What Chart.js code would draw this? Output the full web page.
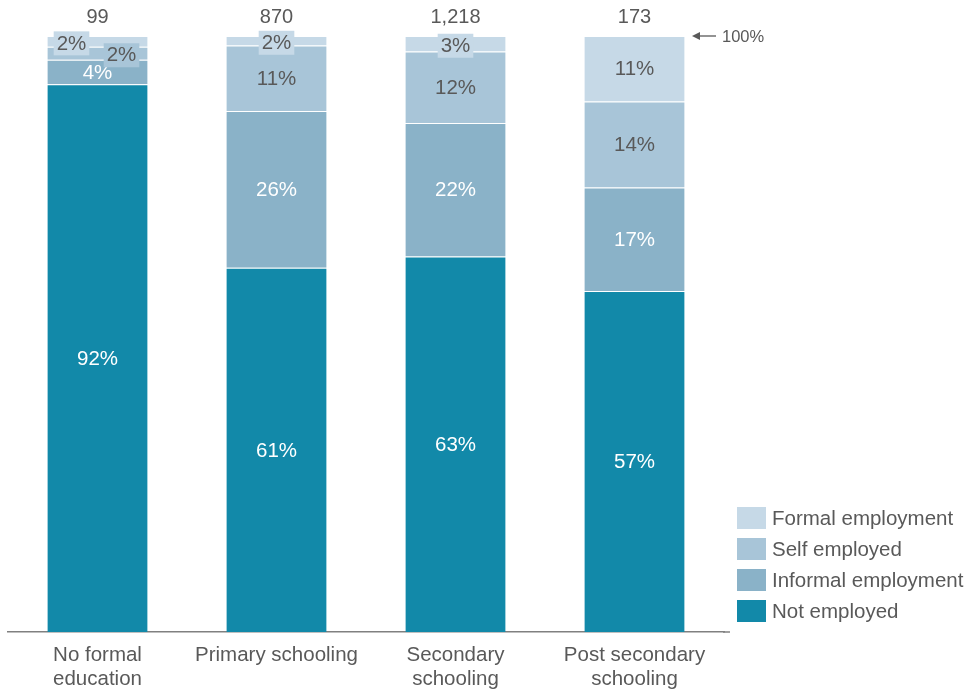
<!DOCTYPE html>
<html>
<head>
<meta charset="utf-8">
<script src="https://cdn.jsdelivr.net/npm/chart.js@4"></script>
<style>
  html, body { margin: 0; padding: 0; background: #fff; }
  #wrap { width: 971px; height: 694px; }
</style>
</head>
<body>
<div id="wrap"><canvas id="eduChart" width="971" height="694"></canvas></div>
<script>
// categories and sample sizes (n shown above bars)
const categories = [['No formal', 'education'], 'Primary schooling', ['Secondary', 'schooling'], ['Post secondary', 'schooling']];
const sampleSizes = ['99', '870', '1,218', '173'];

// shares in % (bottom to top)
const notEmployed = [91.9, 61.1, 63.0, 57.2];
const informalEmployment = [4.1, 26.3, 22.4, 17.4];
const selfEmployed = [2.2, 11.0, 12.0, 14.4];
const formalEmployment = [1.8, 1.6, 2.6, 11.0];

const grey = '#595959';
const font = "'Liberation Sans', Arial, sans-serif";

// label nudges for the tiny segments in the first bar
const labelShift = { '3-0': -26, '2-0': 24 };

const segLabels = {
  id: 'segLabels',
  afterDatasetsDraw(chart) {
    const ctx = chart.ctx;
    const area = chart.chartArea;
    ctx.save();

    // axis line runs a little past the last bar
    ctx.strokeStyle = '#808080';
    ctx.lineWidth = 1.5;
    ctx.beginPath();
    ctx.moveTo(area.right - 1, area.bottom);
    ctx.lineTo(730, area.bottom);
    ctx.stroke();

    ctx.font = '20.5px ' + font;
    ctx.textAlign = 'center';
    ctx.textBaseline = 'middle';
    chart.data.datasets.forEach((ds, di) => {
      const meta = chart.getDatasetMeta(di);
      meta.data.forEach((bar, i) => {
        const v = ds.data[i];
        const txt = Math.round(v) + '%';
        const h = bar.base - bar.y;
        let x = bar.x + (labelShift[di + '-' + i] || 0);
        let y = bar.y + h / 2;
        if (h < 20) {
          y += 1.5;
          const w = ctx.measureText(txt).width + 6;
          ctx.fillStyle = ds.backgroundColor;
          ctx.fillRect(x - w / 2, y - 11.5, w, 24);
        }
        ctx.fillStyle = ds.labelColor;
        ctx.fillText(txt, x, y + 1);
      });
    });

    // sample sizes above the bars
    ctx.fillStyle = grey;
    ctx.font = '20px ' + font;
    const top = chart.getDatasetMeta(0).data;
    top.forEach((bar, i) => {
      ctx.fillText(sampleSizes[i], bar.x, 17);
    });

    // 100% marker
    const y100 = chart.scales.y.getPixelForValue(100);
    ctx.strokeStyle = grey;
    ctx.lineWidth = 1.3;
    ctx.beginPath();
    ctx.moveTo(694, y100);
    ctx.lineTo(716, y100);
    ctx.stroke();
    ctx.beginPath();
    ctx.moveTo(692, y100);
    ctx.lineTo(700, y100 - 4);
    ctx.lineTo(700, y100 + 4);
    ctx.closePath();
    ctx.fillStyle = grey;
    ctx.fill();
    ctx.font = '16.5px ' + font;
    ctx.textAlign = 'left';
    ctx.fillText('100%', 722, y100 + 1);

    // legend, top item first
    ctx.font = '20.5px ' + font;
    const order = [3, 2, 1, 0];
    order.forEach((di, k) => {
      const ds = chart.data.datasets[di];
      const cy = 518 + k * 31;
      ctx.fillStyle = ds.backgroundColor;
      ctx.fillRect(737, cy - 11, 29, 22);
      ctx.fillStyle = grey;
      ctx.fillText(ds.label, 772, cy + 1);
    });
    ctx.restore();
  }
};

const mk = (label, data, color, labelColor) => ({
  label, data,
  backgroundColor: color,
  labelColor,
  borderColor: 'rgba(255,255,255,0.35)',
  borderWidth: { top: 1, left: 0, right: 0, bottom: 0 },
  borderSkipped: false,
  barPercentage: 0.56,
  categoryPercentage: 1
});

new Chart(document.getElementById('eduChart'), {
  type: 'bar',
  data: {
    labels: categories,
    datasets: [
      mk('Not employed', notEmployed, '#1289A9', '#ffffff'),
      mk('Informal employment', informalEmployment, '#8AB2C8', '#ffffff'),
      mk('Self employed', selfEmployed, '#A8C5D8', grey),
      mk('Formal employment', formalEmployment, '#C6D9E7', grey)
    ]
  },
  options: {
    responsive: false,
    animation: false,
    layout: { padding: { left: 8, right: 247, top: 36, bottom: 0 } },
    plugins: { legend: { display: false }, tooltip: { enabled: false } },
    scales: {
      x: {
        stacked: true,
        grid: { display: false, drawTicks: false },
        border: { display: true, color: '#808080', width: 1.5 },
        ticks: { color: grey, font: { family: font, size: 20.5, lineHeight: 1.18 }, padding: 11, maxRotation: 0 },
        afterFit: s => { s.height = 62; }
      },
      y: {
        stacked: true,
        display: false,
        min: 0,
        max: 100
      }
    }
  },
  plugins: [segLabels]
});
</script>
</body>
</html>
